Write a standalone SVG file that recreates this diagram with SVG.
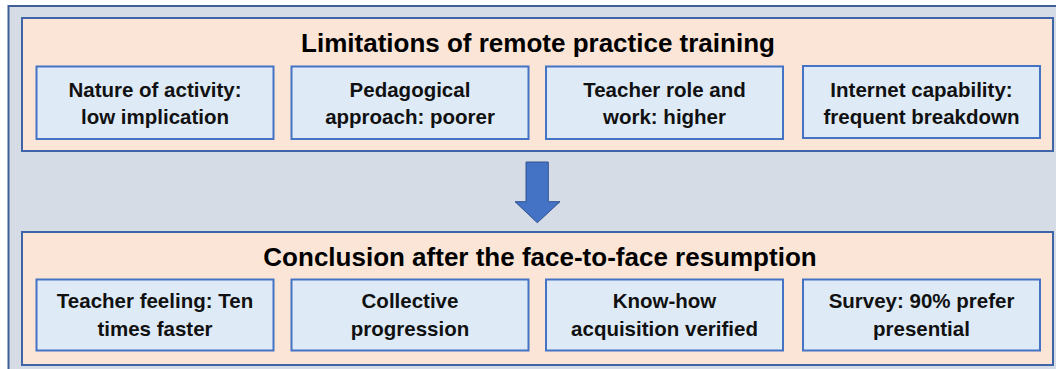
<svg xmlns="http://www.w3.org/2000/svg" width="1056" height="369" viewBox="0 0 1056 369">
<style>
.outer{fill:#D6DCE5;stroke:#3F5E96;stroke-width:2}
.panel{fill:#FBE5D6;stroke:#3F64A8;stroke-width:2}
.box{fill:#DEEBF7;stroke:#4472C4;stroke-width:2}
.title{font-family:"Liberation Sans",Arial,sans-serif;font-weight:bold;font-size:26px;fill:#000;text-anchor:middle}
.lbl{font-family:"Liberation Sans",Arial,sans-serif;font-weight:bold;font-size:20.5px;fill:#111;text-anchor:middle}
.arrow{fill:#4472C4;stroke:#2F528F;stroke-width:1}
</style>
<rect class="outer" x="8.5" y="6" width="1060" height="380"/>
<g id="panel-top">
<rect class="panel" x="22" y="18" width="1031" height="133"/>
<text class="title" x="538" y="52">Limitations of remote practice training</text>
</g>
<g id="n1">
<rect class="box" x="36.5" y="66.5" width="237" height="72.5"/>
<text class="lbl" x="155" y="96.7">Nature of activity:</text>
<text class="lbl" x="155" y="124">low implication</text>
</g>
<g id="n2">
<rect class="box" x="291.5" y="66.5" width="237" height="72.5"/>
<text class="lbl" x="410" y="96.7">Pedagogical</text>
<text class="lbl" x="410" y="124">approach: poorer</text>
</g>
<g id="n3">
<rect class="box" x="546" y="66.5" width="237" height="72.5"/>
<text class="lbl" x="664.5" y="96.7">Teacher role and</text>
<text class="lbl" x="664.5" y="124">work: higher</text>
</g>
<g id="n4">
<rect class="box" x="803" y="66" width="237" height="72"/>
<text class="lbl" x="921.5" y="96.7">Internet capability:</text>
<text class="lbl" x="921.5" y="124">frequent breakdown</text>
</g>
<g id="connectors">
<path class="arrow" d="M526,162 H548.3 V201.7 H560 L537.3,222.7 L515,201.7 H526 Z"/>
</g>
<g id="panel-bottom">
<rect class="panel" x="22" y="232" width="1031" height="133"/>
<text class="title" x="540" y="265.7">Conclusion after the face-to-face resumption</text>
</g>
<g id="m1">
<rect class="box" x="36.5" y="279.5" width="237" height="71"/>
<text class="lbl" x="155" y="308.3">Teacher feeling: Ten</text>
<text class="lbl" x="155" y="335.7">times faster</text>
</g>
<g id="m2">
<rect class="box" x="291.5" y="279.5" width="237" height="71"/>
<text class="lbl" x="410" y="308.3">Collective</text>
<text class="lbl" x="410" y="335.7">progression</text>
</g>
<g id="m3">
<rect class="box" x="546" y="279.5" width="237" height="71"/>
<text class="lbl" x="664.5" y="308.3">Know-how</text>
<text class="lbl" x="664.5" y="335.7">acquisition verified</text>
</g>
<g id="m4">
<rect class="box" x="803" y="279.5" width="237" height="71"/>
<text class="lbl" x="921.5" y="308.3">Survey: 90% prefer</text>
<text class="lbl" x="921.5" y="335.7">presential</text>
</g>
</svg>
